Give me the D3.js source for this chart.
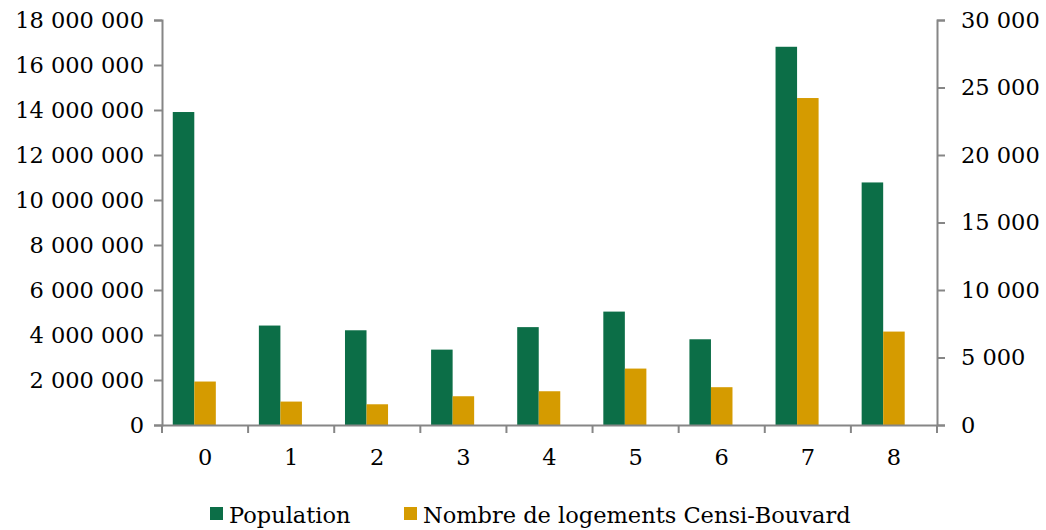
<!DOCTYPE html>
<html>
<head>
<meta charset="utf-8">
<script src="https://cdn.jsdelivr.net/npm/d3@7"></script>
<style>
  body { margin: 0; background: #fff; }
  text { font-family: "DejaVu Serif", serif; fill: #000; }
</style>
</head>
<body>
<div id="chart"></div>
<script>

// categories on the x axis
var categories = ["0", "1", "2", "3", "4", "5", "6", "7", "8"];
// left axis series
var population = [13910000, 4420000, 4210000, 3350000, 4350000, 5040000, 3810000, 16810000, 10780000];
// right axis series
var logements = [3220, 1735, 1535, 2130, 2500, 4180, 2800, 24220, 6920];

var leftTicks = [0, 2000000, 4000000, 6000000, 8000000, 10000000, 12000000, 14000000, 16000000, 18000000];
var rightTicks = [0, 5000, 10000, 15000, 20000, 25000, 30000];

var seriesNames = ["Population", "Nombre de logements Censi-Bouvard"];
var seriesColors = ["#0c6e47", "#d59b00"];

var margin = { top: 20, right: 109, bottom: 105, left: 162 };
var width = 1046 - margin.left - margin.right;
var height = 530 - margin.top - margin.bottom;
var fontSize = "22.5px";

var fmt = function(d) { return d3.format(",")(d).replace(/,/g, " "); };

var x0 = d3.scaleBand()
  .domain(categories)
  .range([0, width])
  .padding(0);

// three slots per group (excel keeps an empty third one)
var x1 = d3.scaleBand()
  .domain(["pop", "log", "empty"])
  .range([0, x0.bandwidth()])
  .paddingInner(0)
  .paddingOuter(0.5);

var yLeft = d3.scaleLinear().domain([0, 18000000]).range([height, 0]);
var yRight = d3.scaleLinear().domain([0, 30000]).range([height, 0]);

var svg = d3.select("#chart").append("svg")
  .attr("width", 1046)
  .attr("height", 530);

var g = svg.append("g")
  .attr("transform", "translate(" + margin.left + "," + margin.top + ")");

// bars
g.selectAll("rect.pop")
  .data(population)
  .enter()
  .append("rect")
  .attr("class", "pop")
  .attr("x", function(d, i) { return x0(categories[i]) + x1("pop"); })
  .attr("width", x1.bandwidth())
  .attr("y", function(d) { return yLeft(d); })
  .attr("height", function(d) { return height - yLeft(d); })
  .attr("fill", seriesColors[0]);

g.selectAll("rect.log")
  .data(logements)
  .enter()
  .append("rect")
  .attr("class", "log")
  .attr("x", function(d, i) { return x0(categories[i]) + x1("log"); })
  .attr("width", x1.bandwidth())
  .attr("y", function(d) { return yRight(d); })
  .attr("height", function(d) { return height - yRight(d); })
  .attr("fill", seriesColors[1]);

// axes
var axisColor = "#868686";

var leftAxis = g.append("g")
  .call(d3.axisLeft(yLeft).tickValues(leftTicks).tickFormat(fmt).tickSize(8).tickPadding(10));

var rightAxis = g.append("g")
  .attr("transform", "translate(" + width + ",0)")
  .call(d3.axisRight(yRight).tickValues(rightTicks).tickFormat(fmt).tickSize(8).tickPadding(16));

var bottomAxis = g.append("g")
  .attr("transform", "translate(0," + height + ")")
  .call(d3.axisBottom(x0).tickSize(0).tickPadding(24));

// tick marks between categories
g.append("g")
  .attr("transform", "translate(0," + height + ")")
  .selectAll("line")
  .data(d3.range(categories.length + 1))
  .enter()
  .append("line")
  .attr("x1", function(i) { return i * x0.step(); })
  .attr("x2", function(i) { return i * x0.step(); })
  .attr("y1", 0)
  .attr("y2", 8)
  .attr("stroke", axisColor)
  .attr("stroke-width", 2);

[leftAxis, rightAxis, bottomAxis].forEach(function(a) {
  a.select(".domain").attr("stroke", axisColor).attr("stroke-width", 2);
  a.selectAll(".tick line").attr("stroke", axisColor).attr("stroke-width", 2);
  a.selectAll("text").style("font-size", fontSize).style("font-family", "DejaVu Serif");
});

// legend
var legendItems = [
  { name: seriesNames[0], color: seriesColors[0], x: 210 },
  { name: seriesNames[1], color: seriesColors[1], x: 404 }
];

var legend = svg.append("g");
legend.selectAll("rect")
  .data(legendItems)
  .enter()
  .append("rect")
  .attr("x", function(d) { return d.x; })
  .attr("y", 507)
  .attr("width", 13)
  .attr("height", 13)
  .attr("fill", function(d) { return d.color; });

legend.selectAll("text")
  .data(legendItems)
  .enter()
  .append("text")
  .attr("x", function(d) { return d.x + 19; })
  .attr("y", 523)
  .style("font-size", fontSize)
  .text(function(d) { return d.name; });

</script>
</body>
</html>
